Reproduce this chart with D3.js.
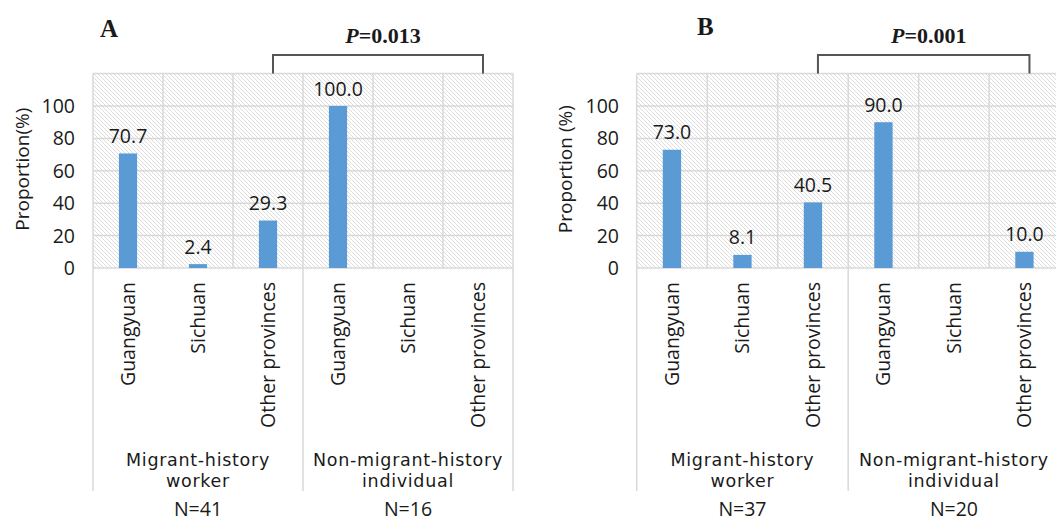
<!DOCTYPE html>
<html>
<head>
<meta charset="utf-8">
<script src="https://cdn.jsdelivr.net/npm/d3@7"></script>
<style>
  html, body { margin: 0; padding: 0; background: #fff; }
  svg { display: block; }
  text { font-family: "Open Sans", "Noto Sans", sans-serif; fill: #1a1a1a; }
  text.grp { font-family: "DejaVu Sans", sans-serif; }
</style>
</head>
<body>
<svg id="chart" width="1056" height="521"></svg>
<script>
// Origin categories within each group
const categories = ["Guangyuan", "Sichuan", "Other provinces"];
// Group labels (two lines each)
const groupLabels = [["Migrant-history", "worker"], ["Non-migrant-history", "individual"]];
// Proportion (%) per origin, panel A
const valuesA_migrant = [70.7, 2.4, 29.3];
const valuesA_nonMigrant = [100.0, null, null];
// Proportion (%) per origin, panel B
const valuesB_migrant = [73.0, 8.1, 40.5];
const valuesB_nonMigrant = [90.0, null, 10.0];
// Sample sizes
const sampleSizesA = ["N=41", "N=16"];
const sampleSizesB = ["N=37", "N=20"];
// Axis ticks and test results
const yTicks = [0, 20, 40, 60, 80, 100];
const pLabels = ["0.013", "0.001"];
const panelTitles = ["A", "B"];
const yTitles = ["Proportion(%)", "Proportion (%)"];

const svg = d3.select("#chart");
const FS = 19.5;

// diagonal hatch used as plot background
const defs = svg.append("defs");
const pat = defs.append("pattern")
  .attr("id", "hatch")
  .attr("patternUnits", "userSpaceOnUse")
  .attr("width", 4).attr("height", 4);
pat.append("rect").attr("width", 4).attr("height", 4).attr("fill", "#fff");
pat.append("path")
  .attr("d", "M-1,-1 L5,5 M-1,3 L1,5 M3,-1 L5,1")
  .attr("stroke", "#d4d4d4").attr("stroke-width", 0.8);

const panels = [
  { left: 93, right: 513, yTitleX: 22, tickX: 75, titleX: 100, titleY: 37,
    groups: [valuesA_migrant, valuesA_nonMigrant], ns: sampleSizesA,
    p: pLabels[0], title: panelTitles[0], yTitle: yTitles[0] },
  { left: 636.7, right: 1059.7, yTitleX: 565, tickX: 619, titleX: 697, titleY: 35,
    groups: [valuesB_migrant, valuesB_nonMigrant], ns: sampleSizesB,
    p: pLabels[1], title: panelTitles[1], yTitle: yTitles[1] }
];

const y = d3.scaleLinear().domain([0, 120]).range([268, 73.6]);
const gridColor = "#d9d9d9";
const barColor = "#5b9bd5";

panels.forEach(P => {
  const g = svg.append("g");
  const keys = [];
  P.groups.forEach((vals, gi) => categories.forEach((c, ci) => keys.push(gi + "|" + ci)));
  const x = d3.scaleBand().domain(keys).range([P.left, P.right]).padding(0);
  const bw = x.bandwidth();
  const groupX = d3.scaleBand().domain(d3.range(P.groups.length)).range([P.left, P.right]);

  // hatched plot area
  g.append("rect")
    .attr("x", P.left).attr("y", y(120))
    .attr("width", P.right - P.left).attr("height", y(0) - y(120))
    .attr("fill", "url(#hatch)");

  // horizontal gridlines (including top border)
  g.selectAll("line.hgrid").data(yTicks.concat([120])).join("line")
    .attr("class", "hgrid")
    .attr("x1", P.left).attr("x2", P.right)
    .attr("y1", d => y(d)).attr("y2", d => y(d))
    .attr("stroke", gridColor).attr("stroke-width", 1.5);

  // vertical gridlines at category boundaries
  const bounds = keys.map(k => x(k)).concat([P.right]);
  g.selectAll("line.vgrid").data(bounds).join("line")
    .attr("class", "vgrid")
    .attr("x1", d => d).attr("x2", d => d)
    .attr("y1", y(120)).attr("y2", y(0))
    .attr("stroke", gridColor).attr("stroke-width", 1.5);

  // group separators below the axis
  const gBounds = d3.range(P.groups.length).map(i => groupX(i)).concat([P.right]);
  g.selectAll("line.gsep").data(gBounds).join("line")
    .attr("class", "gsep")
    .attr("x1", d => d).attr("x2", d => d)
    .attr("y1", y(0)).attr("y2", 491)
    .attr("stroke", gridColor).attr("stroke-width", 1.5);

  // y tick labels
  g.selectAll("text.ytick").data(yTicks).join("text")
    .attr("class", "ytick")
    .attr("x", P.tickX).attr("y", d => y(d))
    .attr("dy", "0.36em")
    .attr("text-anchor", "end")
    .attr("font-size", FS)
    .text(d => d);

  // y axis title
  g.append("text")
    .attr("transform", `translate(${P.yTitleX},${y(61)}) rotate(-90)`)
    .attr("text-anchor", "middle").attr("dy", "0.36em")
    .attr("font-size", 19)
    .text(P.yTitle);

  // bars and value labels
  const barData = [];
  P.groups.forEach((vals, gi) => vals.forEach((v, ci) => {
    if (v !== null) barData.push({ key: gi + "|" + ci, v });
  }));
  const barW = bw * 0.26;
  g.selectAll("rect.bar").data(barData).join("rect")
    .attr("class", "bar")
    .attr("x", d => x(d.key) + bw / 2 - barW / 2)
    .attr("width", barW)
    .attr("y", d => y(d.v))
    .attr("height", d => y(0) - y(d.v))
    .attr("fill", barColor);
  g.selectAll("text.val").data(barData).join("text")
    .attr("class", "val")
    .attr("x", d => x(d.key) + bw / 2)
    .attr("y", d => y(d.v) - 10.5)
    .attr("text-anchor", "middle")
    .attr("font-size", FS)
    .text(d => d3.format(".1f")(d.v));

  // rotated category labels
  g.selectAll("text.cat").data(keys).join("text")
    .attr("class", "cat")
    .attr("transform", k => `translate(${x(k) + bw / 2},282) rotate(-90)`)
    .attr("text-anchor", "end").attr("dy", "0.36em")
    .attr("font-size", FS)
    .text(k => categories[+k.split("|")[1]]);

  // group labels (one text per line) and sample sizes
  d3.range(P.groups.length).forEach(i => {
    const cx = groupX(i) + groupX.bandwidth() / 2;
    groupLabels[i].forEach((line, li) => {
      g.append("text").attr("class", "grp")
        .attr("x", cx).attr("y", 466 + li * 21)
        .attr("text-anchor", "middle").attr("font-size", 17.5)
        .attr("letter-spacing", 0.7)
        .text(line);
    });
    g.append("text").attr("x", cx).attr("y", 516)
      .attr("text-anchor", "middle").attr("font-size", FS)
      .text(P.ns[i]);
  });

  // significance bracket between the two groups
  const bx1 = x("0|2") + bw / 2 + 5;
  const bx2 = x("1|2") + bw / 2 + 5;
  g.append("path")
    .attr("d", `M${bx1},${y(120)} V${55} H${bx2} V${y(120)}`)
    .attr("fill", "none").attr("stroke", "#555").attr("stroke-width", 2);

  const pt = g.append("text")
    .attr("x", (bx1 + bx2) / 2 + 5).attr("y", 43)
    .attr("text-anchor", "middle")
    .style("font-family", "'Liberation Serif', 'DejaVu Serif', serif")
    .style("font-weight", "bold").attr("font-size", 22);
  pt.append("tspan").style("font-style", "italic").text("P");
  pt.append("tspan").text("=" + P.p);

  // panel letter
  g.append("text")
    .attr("x", P.titleX).attr("y", P.titleY)
    .style("font-family", "'Liberation Serif', 'DejaVu Serif', serif")
    .style("font-weight", "bold").attr("font-size", 25)
    .text(P.title);
});
</script>
</body>
</html>
